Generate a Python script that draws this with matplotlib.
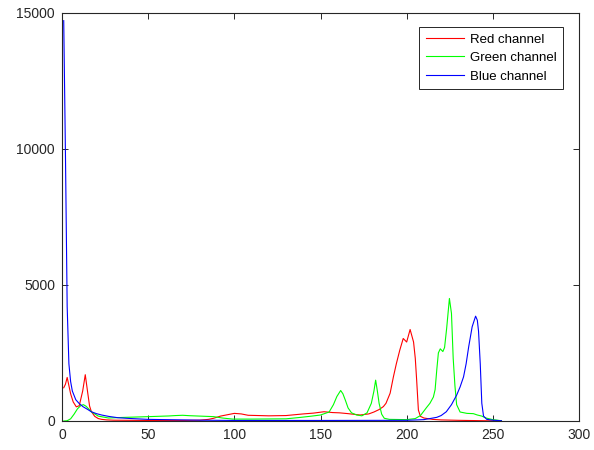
import matplotlib
matplotlib.use("Agg")
import matplotlib.pyplot as plt

plt.rcParams['font.family'] = ['Liberation Sans', 'DejaVu Sans']

# intensity bins and counts
red_x = [1, 2, 3, 5, 6.5, 8.3, 10, 12, 13.5, 15, 16, 17, 19, 21, 23, 26, 30, 40, 50,
         60, 70, 80, 85, 88, 92, 96, 100, 104, 108, 114, 120, 130, 140, 146, 152, 157,
         161, 166, 173, 178, 181, 184, 186.5, 188, 190.4, 192.3, 194, 196, 198, 200,
         202, 204, 205, 205.8, 206.8, 208, 210, 215, 220, 230, 240, 250, 255]
red_y = [1220, 1350, 1600, 1000, 700, 520, 560, 1100, 1700, 1000, 550, 350, 170, 90, 60,
         40, 30, 25, 20, 20, 20, 30, 60, 100, 180, 230, 280, 260, 210, 200, 190, 200,
         260, 290, 340, 310, 300, 270, 220, 260, 330, 420, 530, 650, 1020, 1620, 2100,
         2600, 3030, 2900, 3360, 2900, 2300, 1500, 400, 170, 110, 60, 40, 25, 15, 5, 0]

green_x = [1, 3, 5, 7, 9, 11, 12.4, 14, 17, 21, 27, 35, 45, 55, 62, 66, 70, 74, 80, 88, 93,
           99, 110, 130, 138, 145, 150, 155, 157.5, 159.5, 161.7, 163, 164.5, 166, 168,
           171, 174, 177, 179.5, 181, 182, 183, 184, 185.5, 187, 190, 200, 205, 208,
           211.6, 213.5, 215.5, 216.5, 217.5, 218.4, 219.5, 221, 222, 223.2, 224.8, 226,
           227, 228, 229, 231, 235, 238.7, 241, 243.6, 246, 250, 255]
green_y = [0, 10, 80, 250, 450, 570, 600, 540, 340, 180, 110, 130, 150, 170, 185, 200,
           210, 195, 180, 160, 110, 70, 70, 80, 130, 180, 220, 330, 600, 900, 1120, 1000,
           750, 480, 300, 220, 190, 300, 650, 1100, 1500, 1100, 650, 250, 100, 60, 50, 90,
           200, 500, 650, 880, 1150, 1900, 2500, 2650, 2550, 2700, 3400, 4500, 3950,
           2300, 1300, 600, 330, 280, 270, 220, 180, 110, 50, 10]

blue_x = [1, 2, 3, 4, 5, 6, 8, 10, 12.2, 15, 17, 20, 23, 27, 32.5, 40, 50, 60, 70, 80,
          100, 150, 200, 210, 217.5, 220, 223, 226, 229, 231, 233, 234.5, 236, 238, 240,
          241, 241.7, 242.7, 243.6, 244.6, 246.5, 250, 255]
blue_y = [14700, 9800, 4200, 2100, 1450, 1100, 780, 640, 525, 420, 340, 270, 220,
          170, 120, 90, 60, 50, 40, 30, 20, 20, 25, 50, 135, 200, 340, 600, 950, 1250,
          1620, 2100, 2730, 3460, 3850, 3700, 3300, 2100, 650, 180, 60, 30, 10]

series = [("Red channel", red_x, red_y, (1, 0, 0)),
          ("Green channel", green_x, green_y, (0, 1, 0)),
          ("Blue channel", blue_x, blue_y, (0, 0, 1))]

fig = plt.figure(figsize=(5.94, 4.5), dpi=100)
ax = fig.add_axes([62 / 594, 29 / 450, 517 / 594, 408.5 / 450])

for name, xs, ys, col in series:
    ax.plot(xs, ys, color=col, lw=0.8, label=name)

ax.set_xlim(0, 300)
ax.set_ylim(0, 15000)
ax.set_xticks([0, 50, 100, 150, 200, 250, 300])
ax.set_yticks([0, 5000, 10000, 15000])

dark = '#262626'
for sp in ax.spines.values():
    sp.set_color(dark)
    sp.set_linewidth(0.8)
ax.tick_params(direction='in', length=4, width=0.7, color=dark, labelcolor=dark,
               labelsize=10, top=True, right=True, pad=5)

leg = ax.legend(loc='upper right', bbox_to_anchor=(0.969, 0.965), borderaxespad=0,
                fancybox=False, framealpha=1, edgecolor=dark, fontsize=9.5,
                handlelength=2.9, handletextpad=0.4, labelspacing=0.47,
                borderpad=0.5)
leg.get_frame().set_linewidth(0.7)

fig.savefig("out.png", dpi=100)
